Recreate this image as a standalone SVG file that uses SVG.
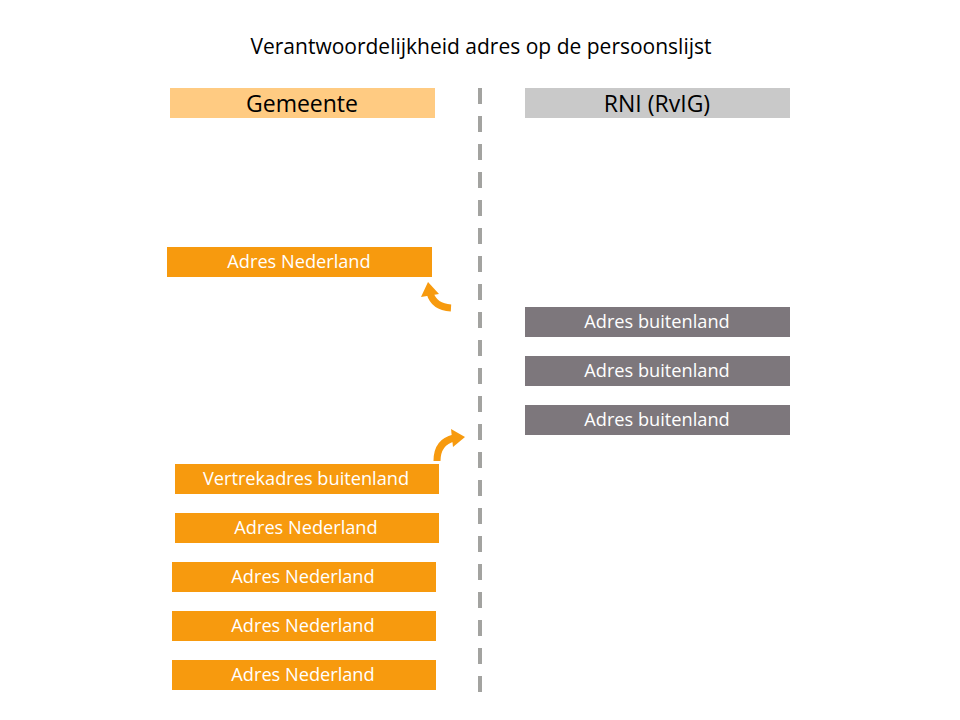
<svg xmlns="http://www.w3.org/2000/svg" width="960" height="720" viewBox="0 0 960 720">
<style>
.o{fill:#F79A0E}.g{fill:#7D777C}
.t{font-family:"Open Sans","Liberation Sans",sans-serif;font-size:18.2px;fill:#fff;text-anchor:middle}
.h{font-family:"Open Sans","Liberation Sans",sans-serif;font-size:23px;fill:#000;text-anchor:middle}
</style>
<rect width="960" height="720" fill="#fff"/>
<text x="481" y="54" class="h" style="font-size:21px">Verantwoordelijkheid adres op de persoonslijst</text>
<g id="connectors">
<line x1="480" y1="88" x2="480" y2="692" stroke="#A3A3A0" stroke-width="4" stroke-dasharray="16 12"/>
<path d="M451,308 Q434,307 430,293" fill="none" stroke="#F79A0E" stroke-width="7"/>
<polygon points="428,282 421,297 439,294" fill="#F79A0E"/>
<path d="M437,461 Q437,442 454,438" fill="none" stroke="#F79A0E" stroke-width="7"/>
<polygon points="465,437 451,429 453,447" fill="#F79A0E"/>
</g>
<g id="gemeente"><rect x="170" y="88" width="265" height="30" fill="#FFCB82"/><text x="302" y="112" class="h">Gemeente</text></g>
<g id="rni"><rect x="525" y="88" width="265" height="30" fill="#C9C9C9"/><text x="657" y="112" class="h">RNI (RvIG)</text></g>
<g id="n1"><rect x="167" y="247" width="265" height="30" class="o"/><text x="299" y="268" class="t">Adres Nederland</text></g>
<g id="b1"><rect x="525" y="307" width="265" height="30" class="g"/><text x="657" y="328" class="t">Adres buitenland</text></g>
<g id="b2"><rect x="525" y="356" width="265" height="30" class="g"/><text x="657" y="377" class="t">Adres buitenland</text></g>
<g id="b3"><rect x="525" y="405" width="265" height="30" class="g"/><text x="657" y="426" class="t">Adres buitenland</text></g>
<g id="v1"><rect x="175" y="464" width="264" height="30" class="o"/><text x="306" y="485" class="t">Vertrekadres buitenland</text></g>
<g id="n2"><rect x="175" y="513" width="264" height="30" class="o"/><text x="306" y="534" class="t">Adres Nederland</text></g>
<g id="n3"><rect x="172" y="562" width="264" height="30" class="o"/><text x="303" y="583" class="t">Adres Nederland</text></g>
<g id="n4"><rect x="172" y="611" width="264" height="30" class="o"/><text x="303" y="632" class="t">Adres Nederland</text></g>
<g id="n5"><rect x="172" y="660" width="264" height="30" class="o"/><text x="303" y="681" class="t">Adres Nederland</text></g>
</svg>
